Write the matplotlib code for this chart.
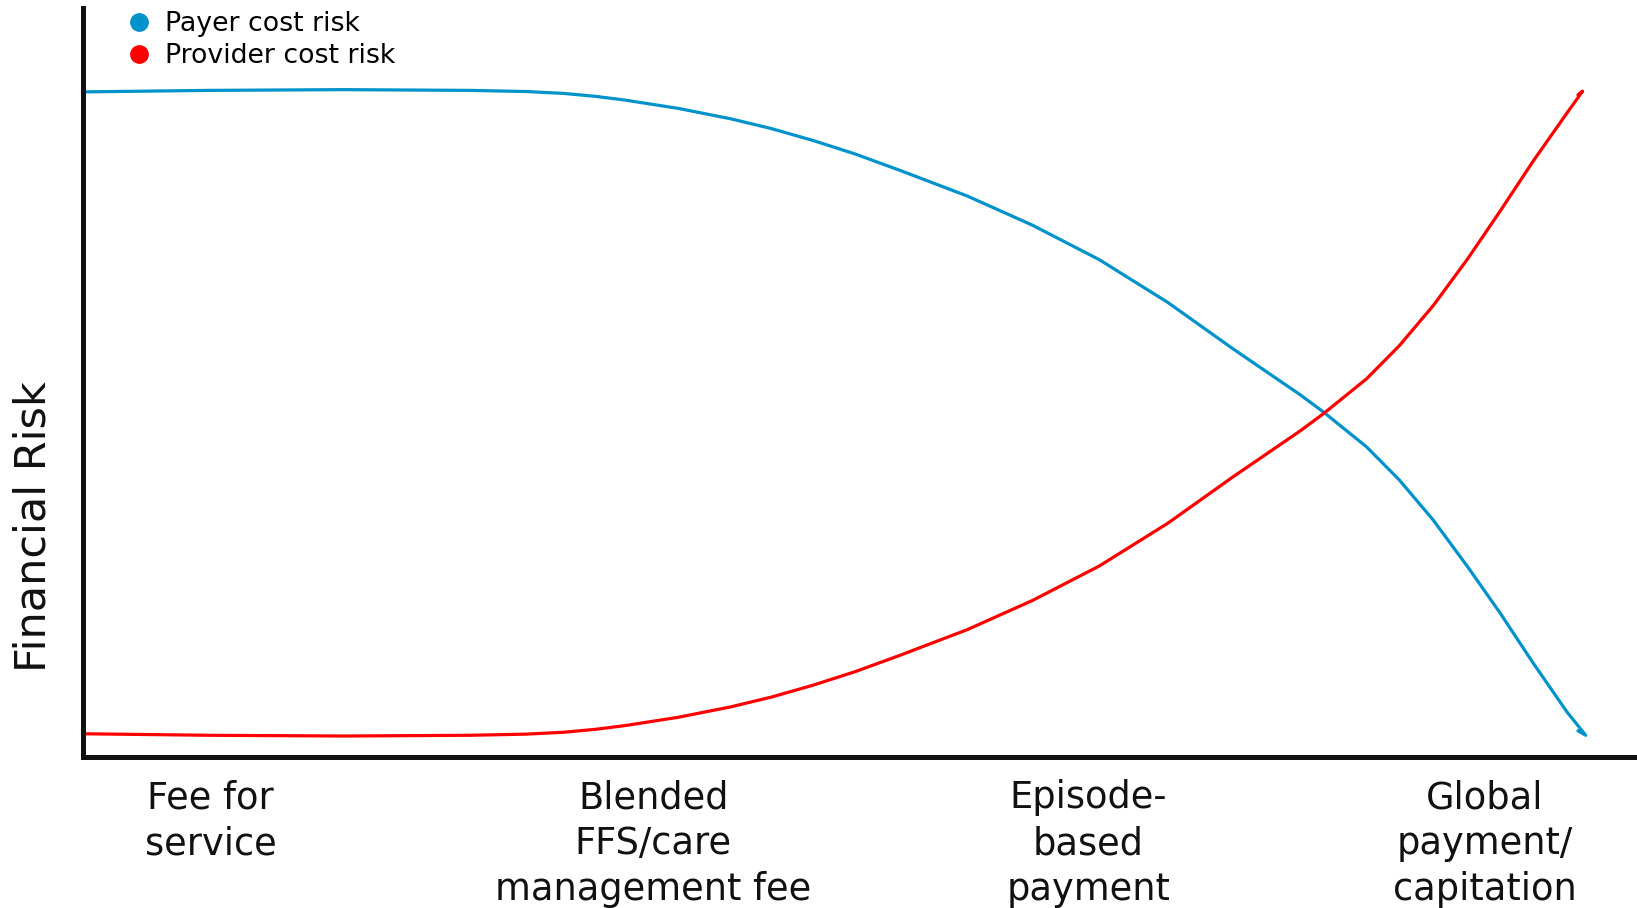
import matplotlib
matplotlib.use("Agg")
import matplotlib.pyplot as plt
from matplotlib.lines import Line2D

# payment model axis runs 0-100 (left to right), risk 0-100
payer_x = [0.1, 8.1, 16.8, 24.9, 28.5, 30.9, 33.0, 34.9, 38.3, 41.7, 44.3, 47.0,
           49.7, 52.6, 56.9, 61.1, 65.4, 69.8, 74.0, 78.3, 79.8, 82.6, 84.7, 86.9,
           89.1, 91.2, 93.3, 95.5, 96.7, 96.2]
payer_risk = [88.8, 89.0, 89.1, 89.0, 88.85, 88.6, 88.2, 87.7, 86.6, 85.2, 83.9, 82.3,
              80.5, 78.3, 74.9, 71.0, 66.4, 60.7, 54.5, 48.4, 46.1, 41.4, 37.0, 31.6,
              25.4, 19.2, 12.6, 6.0, 2.9, 3.5]

provider_x = [0.1, 8.1, 16.8, 24.9, 28.5, 30.9, 33.0, 34.9, 38.3, 41.7, 44.3, 47.0,
              49.7, 52.6, 56.9, 61.1, 65.4, 69.8, 74.0, 78.3, 79.8, 82.6, 84.7, 86.9,
              89.1, 91.2, 93.3, 95.5, 96.5, 96.2]
provider_risk = [3.1, 2.9, 2.8, 2.9, 3.05, 3.3, 3.7, 4.2, 5.3, 6.7, 8.0, 9.6,
                 11.4, 13.6, 17.0, 20.9, 25.5, 31.2, 37.4, 43.5, 45.8, 50.5, 54.9, 60.3,
                 66.5, 72.9, 79.5, 86.0, 88.9, 88.4]

models = ["Fee for\nservice", "Blended\nFFS/care\nmanagement fee",
          "Episode-\nbased\npayment", "Global\npayment/\ncapitation"]
model_pos = [8.2, 36.7, 64.7, 90.2]

blue = "#0092CB"
red = "#FF0000"

fig = plt.figure(figsize=(16.37, 9.08), dpi=100)
ax = fig.add_axes([83 / 1637, 151 / 908, 1 - 83 / 1637, 749 / 908])

ax.plot(payer_x, payer_risk, color=blue, lw=2.3, solid_capstyle="round",
        solid_joinstyle="round")
ax.plot(provider_x, provider_risk, color=red, lw=2.3, solid_capstyle="round",
        solid_joinstyle="round")

ax.set_xlim(0, 100)
ax.set_ylim(0, 100)
for side in ["top", "right"]:
    ax.spines[side].set_visible(False)
for side in ["left", "bottom"]:
    ax.spines[side].set_linewidth(3.6)
    ax.spines[side].set_color("#111111")

ax.set_yticks([])
ax.set_xticks(model_pos)
ax.set_xticklabels(models, fontsize=26.5, va="top", ha="center", linespacing=1.31)
ax.tick_params(axis="x", length=0, pad=16, colors="#111111")

ax.set_ylabel("Financial Risk", fontsize=31, color="#111111")
ax.yaxis.set_label_coords(-0.0186, 0.307)

handles = [Line2D([], [], marker="o", ls="none", color=blue, markersize=12.5),
           Line2D([], [], marker="o", ls="none", color=red, markersize=12.5)]
ax.legend(handles, ["Payer cost risk", "Provider cost risk"], loc="upper left",
          bbox_to_anchor=(128.7 / 1637, 1 - 11 / 908), bbox_transform=fig.transFigure,
          frameon=False, fontsize=19.3, borderpad=0, borderaxespad=0,
          handlelength=0.8, handletextpad=0.55, labelspacing=0.24)

fig.savefig("out.png", dpi=100, facecolor="white")
